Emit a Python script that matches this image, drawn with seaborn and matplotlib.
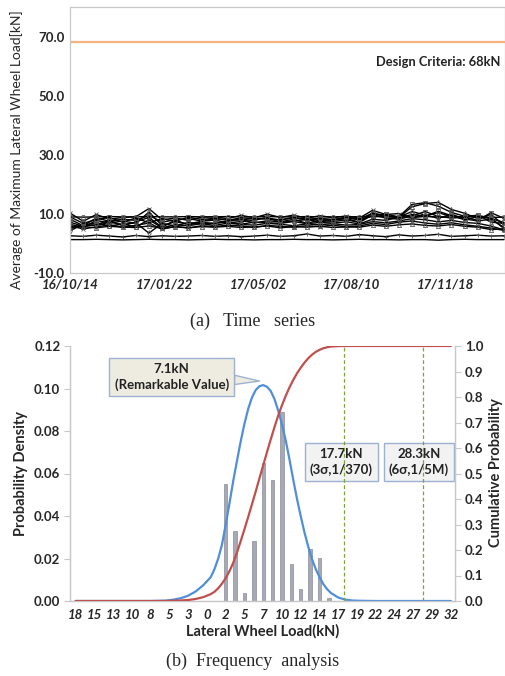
import numpy as np
import pandas as pd
import matplotlib
matplotlib.use("Agg")
import matplotlib.pyplot as plt
import matplotlib.dates as mdates
import seaborn as sns

sns.set_theme(style="white")
plt.rcParams["font.family"] = ["Lato", "DejaVu Sans"]

# ---------------- data: (a) time series ----------------
dates = pd.date_range("2016-10-14", periods=34, freq="14D")
s01 = [9.0,8.9,9.0,9.1,9.0,9.0,9.1,9.0,9.0,9.1,9.0,9.0,9.1,9.0,9.0,9.1,9.0,9.0,9.1,9.0,9.0,9.1,9.0,9.0,9.2,9.0,9.0,9.1,9.0,9.0,9.1,9.0,8.8,8.9]
s02 = [10.3,7.5,9.8,8.2,8.8,9.0,11.8,8.0,8.6,7.8,8.9,9.0,8.4,9.5,8.7,9.9,8.8,9.6,8.5,9.4,8.7,9.3,8.6,11.2,9.8,10.1,8.7,9.3,10.4,9.1,8.8,9.6,7.2,6.8]
s03 = [8.2,6.0,8.6,7.5,8.2,7.8,9.5,7.2,8.0,8.4,7.6,8.3,8.1,7.9,8.5,8.2,8.0,8.7,7.9,8.3,8.1,8.6,8.0,9.4,9.9,9.0,13.2,13.8,12.6,10.5,9.2,9.5,8.6,5.0]
s04 = [6.5,5.4,7.8,6.9,7.6,6.8,10.6,6.1,7.3,6.6,7.5,7.9,7.0,7.4,7.8,8.8,7.1,7.6,8.1,7.3,7.9,8.4,7.2,10.3,9.0,8.8,12.4,13.5,13.9,11.5,10.2,8.4,9.8,6.2]
s05 = [4.3,6.5,6.0,7.2,6.4,7.0,3.5,6.8,5.9,7.1,6.6,6.9,7.3,6.5,7.2,7.0,6.8,7.4,6.7,7.1,6.9,7.3,6.6,8.2,7.8,8.9,10.8,9.6,8.5,9.9,8.3,7.6,8.2,5.4]
s06 = [5.5,6.2,7.0,5.9,6.6,5.6,8.0,5.3,6.3,6.0,6.7,6.1,6.9,6.4,6.2,6.8,6.5,6.0,6.6,6.3,6.7,6.2,6.4,7.4,7.0,7.6,8.4,8.0,7.3,7.8,7.1,6.8,5.9,4.6]
s07 = [7.2,5.8,6.4,7.8,6.0,7.3,8.8,5.5,7.9,6.3,7.2,6.7,7.6,8.1,6.9,7.7,7.3,8.2,6.8,7.9,7.4,8.0,7.1,9.6,8.6,8.2,9.3,10.8,9.1,8.6,8.9,7.8,10.4,8.5]
s08 = [6.0,4.9,5.6,6.3,5.5,6.1,6.9,4.8,5.8,5.2,6.0,5.7,6.2,5.9,5.4,6.1,5.8,5.5,6.0,5.7,6.2,5.6,5.9,6.8,6.4,7.2,7.6,6.9,6.5,7.0,6.3,5.8,5.2,4.4]
s09 = [9.0,6.8,8.1,8.8,7.2,8.6,7.0,8.4,7.5,8.9,8.1,8.5,7.8,8.7,8.3,8.6,7.9,8.8,8.2,8.5,8.0,8.9,8.3,10.2,9.5,8.6,9.8,9.2,10.9,9.4,8.0,9.1,8.4,7.1]
s10 = [5.2,5.7,5.3,5.8,5.5,5.4,5.9,5.1,5.6,5.3,5.7,5.5,5.8,5.4,5.6,5.9,5.3,5.7,5.5,5.8,5.4,5.6,5.5,6.2,5.8,6.3,6.6,6.1,5.9,6.4,5.8,5.5,4.7,4.9]
s11 = [2.6,2.4,2.8,2.5,2.2,2.7,2.3,2.6,2.4,2.5,2.7,2.4,2.6,2.3,2.5,2.8,2.4,2.6,3.2,2.5,2.7,2.4,3.0,2.6,2.3,2.9,2.5,2.7,3.1,2.4,2.6,2.8,2.5,2.6]
s12 = [1.3,1.3,1.4,1.3,1.2,1.3,1.4,1.3,1.3,1.2,1.3,1.4,1.3,1.3,1.2,1.3,1.3,1.4,1.3,1.3,1.2,1.3,1.4,1.3,1.3,1.2,1.3,1.3,1.1,1.3,1.4,1.3,1.3,1.3]
ts_series = [s01, s02, s03, s04, s05, s06, s07, s08, s09, s10, s11, s12]
design_criteria = 68.0
date_ticks = ["2016-10-14", "2017-01-22", "2017-05-02", "2017-08-10", "2017-11-18"]
ts_yticks = [-10, 10, 30, 50, 70]

# ---------------- data: (b) frequency analysis ----------------
bar_x = [2.0, 3.25, 4.5, 5.75, 7.0, 8.25, 9.5, 10.75, 12.0, 13.25, 14.5, 15.75]
bar_h = [0.0549, 0.0328, 0.0039, 0.0284, 0.0651, 0.0569, 0.0891, 0.0174, 0.0055, 0.0246, 0.0202, 0.0016]
pdf_x = [-18, -8, -6, -5, -4, -3, -2, -1, 0, 0.5, 1.0, 1.5, 2.0, 2.5, 3.0, 3.5, 4.0, 4.5, 5.0, 5.5,
         6.0, 6.5, 7.0, 7.5, 8.0, 8.5, 9.0, 9.5, 10.0, 10.5, 11.0, 11.5, 12.0, 12.5, 13.0, 13.5,
         14.0, 14.5, 15.0, 15.5, 16.0, 17.0, 18.0, 19.0, 20.0, 22.0, 32.0]
pdf_y = [0.0, 0.0, 0.0002, 0.0006, 0.0013, 0.0025, 0.0045, 0.0074, 0.0112, 0.0150, 0.0200, 0.0265,
         0.0360, 0.0460, 0.0565, 0.0660, 0.0752, 0.0835, 0.0905, 0.0958, 0.0993, 0.1011, 0.1016,
         0.1008, 0.0988, 0.0950, 0.0895, 0.0830, 0.0755, 0.0665, 0.0570, 0.0480, 0.0398, 0.0322,
         0.0255, 0.0197, 0.0150, 0.0112, 0.0080, 0.0056, 0.0038, 0.0016, 0.0006, 0.0002, 0.0001,
         0.0, 0.0]
cdf_x = [-18, -6, -4, -3, -2, -1, 0, 0.5, 1.0, 1.5, 2.0, 2.5, 3.0, 3.5, 4.0, 4.5, 5.0, 5.5, 6.0,
         6.5, 7.0, 7.5, 8.0, 8.5, 9.0, 9.5, 10.0, 10.5, 11.0, 11.5, 12.0, 12.5, 13.0, 13.5, 14.0,
         14.5, 15.0, 15.5, 16.0, 17.0, 17.7, 32.0]
cdf_y = [0.0, 0.0, 0.002, 0.004, 0.008, 0.015, 0.027, 0.036, 0.050, 0.068, 0.090, 0.117, 0.150,
         0.190, 0.235, 0.282, 0.330, 0.380, 0.430, 0.482, 0.533, 0.584, 0.634, 0.682, 0.728,
         0.768, 0.805, 0.838, 0.867, 0.893, 0.915, 0.935, 0.952, 0.966, 0.977, 0.985, 0.991,
         0.995, 0.998, 0.9995, 1.0, 1.0]
load_tick_pos = [-18 + 2.5 * i for i in range(21)]
load_tick_labels = ["18", "15", "13", "10", "8", "5", "3", "0", "2", "5", "7", "10", "12", "14",
                    "17", "19", "22", "24", "27", "29", "32"]
sigma_lines = [17.7, 28.3]
sigma_texts = ["17.7kN\n(3σ,1/370)", "28.3kN\n(6σ,1/5M)"]
peak_value = 7.1

# ---------------- figure ----------------
W, H = 505, 676
fig = plt.figure(figsize=(W / 100, H / 100), dpi=100)

def px_rect(l, t, r, b):
    return [l / W, 1 - b / H, (r - l) / W, (b - t) / H]

gray_spine = "#c8c8c8"

# (a) time series
ax1 = fig.add_axes(px_rect(70, 7, 505, 273))
markers = ["o", "x", "s", "^", "d", "o", "v", "x", "s", "^", "+", None]
for vals, m in zip(ts_series, markers):
    sns.lineplot(x=dates, y=vals, ax=ax1, color="black", lw=1.0,
                 marker=m if m else "", markersize=3, markerfacecolor="none",
                 markeredgecolor="#555555", markeredgewidth=0.6)
ax1.axhline(design_criteria, color="#f7b27f", lw=1.6)
ax1.text(0.703, 61.5, "Design Criteria: 68kN", transform=ax1.get_yaxis_transform(),
         fontsize=9.3, fontweight="bold", color="#222222", va="center", ha="left")
ax1.set_ylim(-10, 80)
ax1.set_yticks(ts_yticks)
ax1.set_yticklabels([f"{v:.1f}" for v in ts_yticks], fontsize=9.5, fontweight="bold")
ax1.set_xlim(pd.Timestamp("2016-10-14"), pd.Timestamp("2018-01-20"))
ax1.set_xticks(pd.to_datetime(date_ticks))
ax1.xaxis.set_major_formatter(mdates.DateFormatter("%y/%m/%d"))
for lbl in ax1.get_xticklabels():
    lbl.set_fontsize(9.5)
    lbl.set_fontweight("bold")
    lbl.set_fontstyle("italic")
ax1.tick_params(axis="x", which="major", length=4, width=0.8, color=gray_spine, pad=2, direction="inout")
ax1.tick_params(axis="y", length=0, pad=4)
for sp in ax1.spines.values():
    sp.set_color(gray_spine)
    sp.set_linewidth(0.9)
ax1.set_xlabel("")
ax1.set_ylabel("")
ax1.grid(False)
fig.text(17 / W, 1 - 150 / H, "Average of Maximum Lateral Wheel Load[kN]", rotation=90,
         fontsize=10, ha="center", va="center")

# (b) frequency analysis
ax2 = fig.add_axes(px_rect(70, 346, 455, 601))
ax3 = ax2.twinx()
ax2.bar(bar_x, bar_h, width=0.45, color="#a7a9b5", edgecolor="#8a8c99", linewidth=0.5, zorder=2)
sns.lineplot(x=pdf_x, y=pdf_y, ax=ax2, color="#4f8fda", lw=1.6, zorder=3)
sns.lineplot(x=cdf_x, y=cdf_y, ax=ax3, color="#c0504d", lw=1.6, zorder=3)
for xv in sigma_lines:
    ax3.plot([xv, xv], [0, 1.0], color="#7ea33d", lw=0.9, ls=(0, (3, 2)), zorder=1)

ax2.set_xlim(-18.75, 32.55)
ax2.set_ylim(0, 0.12)
ax3.set_ylim(0, 1.0)
ax2.set_xticks(load_tick_pos)
ax2.set_xticklabels(load_tick_labels, fontsize=9.5, fontweight="bold", fontstyle="italic")
ax2.set_xticks([-18.75 + 12.5 * k for k in range(5)], minor=True)
ax2.tick_params(axis="x", which="major", length=0, pad=6)
ax2.tick_params(axis="x", which="minor", length=4, width=0.8, color=gray_spine, direction="inout")
yt = [0.0, 0.02, 0.04, 0.06, 0.08, 0.10, 0.12]
ax2.set_yticks(yt)
ax2.set_yticklabels([f"{v:.2f}" for v in yt], fontsize=9.5, fontweight="bold")
ax2.tick_params(axis="y", length=4, width=0.8, color=gray_spine, direction="out", pad=3)
yt3 = [round(0.1 * i, 1) for i in range(11)]
ax3.set_yticks(yt3)
ax3.set_yticklabels([f"{v:.1f}" for v in yt3], fontsize=9.5, fontweight="bold")
ax3.tick_params(axis="y", length=4, width=0.8, color=gray_spine, direction="out", pad=3)
for a in (ax2, ax3):
    a.spines["top"].set_visible(False)
    for s in ("left", "right", "bottom"):
        a.spines[s].set_color(gray_spine)
        a.spines[s].set_linewidth(0.9)
    a.grid(False)
ax2.set_xlabel("Lateral Wheel Load(kN)", fontsize=10.5, fontweight="bold", labelpad=2)
ax2.set_ylabel("Probability Density", fontsize=10.5, fontweight="bold", labelpad=4)
ax3.set_ylabel("")
fig.text(496 / W, 1 - 473 / H, "Cumulative Probability", rotation=90, fontsize=10.5,
         fontweight="bold", ha="center", va="center")

ax2.annotate(f"{peak_value}kN\n(Remarkable Value)", xy=(6.5, 0.1035), xytext=(-5.2, 0.1054),
             ha="center", va="center", fontsize=9.5, fontweight="bold", linespacing=1.3,
             color="#222222", zorder=5,
             bbox=dict(boxstyle="square,pad=0.4", fc="#eeece1", ec="#9db2d0", lw=1),
             arrowprops=dict(arrowstyle="wedge,tail_width=0.7,shrink_factor=0.5",
                             fc="#eeece1", ec="#9db2d0", lw=1, shrinkA=0, shrinkB=0))
for xc, txt in zip([17.41, 27.75], sigma_texts):
    ax2.text(xc, 0.0654, txt, ha="center", va="center", fontsize=9.5, fontweight="bold",
             linespacing=1.3, color="#222222", zorder=5,
             bbox=dict(boxstyle="square,pad=0.4", fc="#f2f2f2", ec="#9db2d0", lw=1))

fig.text(0.5, 1 - 321 / H, "(a)   Time   series", family="Liberation Serif", fontsize=13,
         ha="center", va="center")
fig.text(0.5, 1 - 661 / H, "(b)  Frequency  analysis", family="Liberation Serif", fontsize=13,
         ha="center", va="center")

fig.savefig("out.png", dpi=100)
